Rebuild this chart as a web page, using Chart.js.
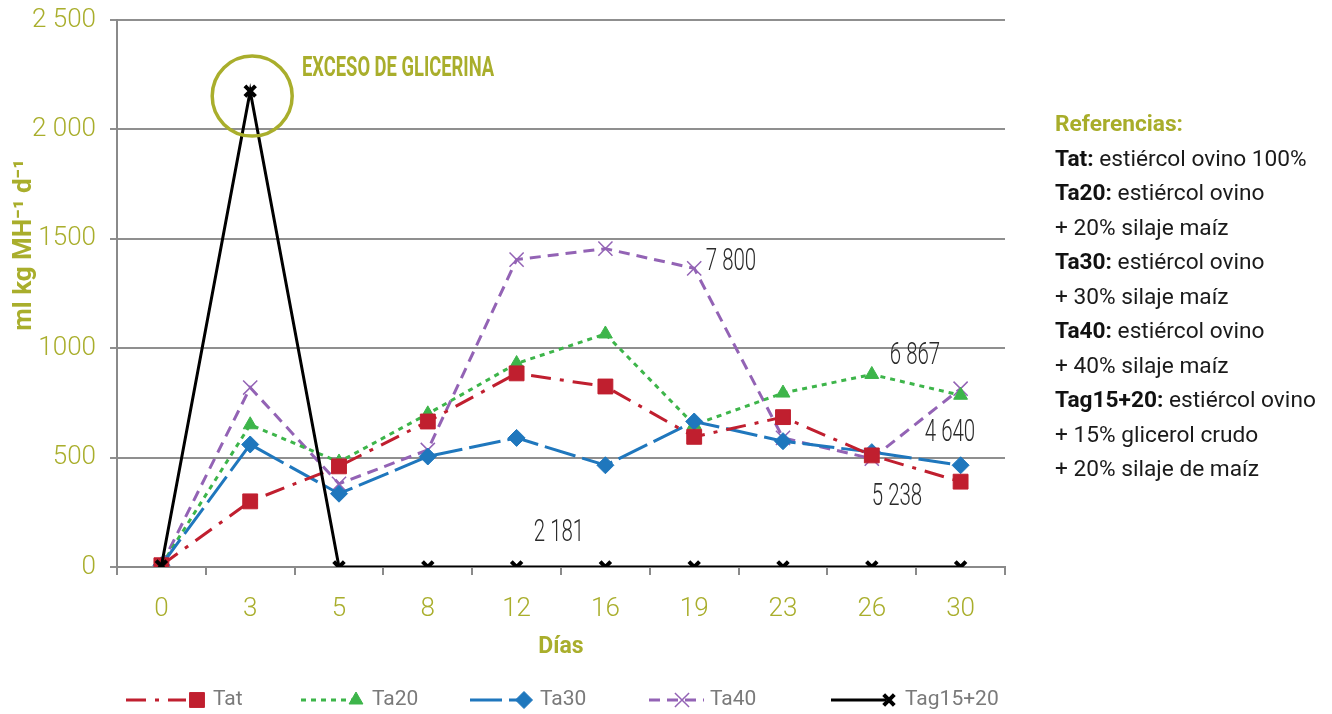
<!DOCTYPE html>
<html>
<head>
<meta charset="utf-8">
<script src="https://cdn.jsdelivr.net/npm/chart.js@4.4.1/dist/chart.umd.min.js"></script>
<style>
  html, body { margin: 0; padding: 0; background: #fff; }
  #wrap { position: relative; width: 1332px; height: 714px; }
  #refs {
    position: absolute; left: 1055px; top: 107px;
    font-family: Roboto, "Open Sans", sans-serif; font-size: 22.7px;
    line-height: 34.5px; color: #1a1a1a; white-space: nowrap;
  }
  #refs .head { color: #a8ad2a; font-weight: bold; }
  #refs b { font-weight: bold; color: #111; }
</style>
</head>
<body>
<div id="wrap">
  <canvas id="myChart" width="1332" height="714"></canvas>
  <div id="refs">
    <div class="head">Referencias:</div>
    <div><b>Tat:</b> estiércol ovino 100%</div>
    <div><b>Ta20:</b> estiércol ovino</div>
    <div>+ 20% silaje maíz</div>
    <div><b>Ta30:</b> estiércol ovino</div>
    <div>+ 30% silaje maíz</div>
    <div><b>Ta40:</b> estiércol ovino</div>
    <div>+ 40% silaje maíz</div>
    <div><b>Tag15+20:</b> estiércol ovino</div>
    <div>+ 15% glicerol crudo</div>
    <div>+ 20% silaje de maíz</div>
  </div>
</div>
<script>
// days of the trial
const dias = ["0", "3", "5", "8", "12", "16", "19", "23", "26", "30"];

// ml kg MH-1 d-1 per treatment
const tat   = [8, 300, 460, 665, 885, 825, 595, 685, 510, 390];
const ta20  = [8, 650, 480, 700, 930, 1065, 650, 795, 880, 785];
const ta30  = [8, 560, 335, 505, 590, 465, 665, 575, 525, 465];
const ta40  = [8, 820, 380, 535, 1405, 1455, 1365, 590, 495, 815];
const tag   = [5, 2175, 0, 0, 0, 0, 0, 0, 0, 0];

const yTickLabels = ["0", "500", "1000", "1500", "2 000", "2 500"];

// cumulative production notes written on the chart
const notes = ["7 800", "6 867", "4 640", "5 238", "2 181"];
const calloutText = "EXCESO DE GLICERINA";

const OLIVE = "#a9ae2c";
const THIN = "Roboto, 'Open Sans', sans-serif";

const ctx = document.getElementById("myChart").getContext("2d");

// narrow text: squeeze horizontally round its anchor
function narrowText(c, text, x, y, sx) {
  c.save();
  c.translate(x, y);
  c.scale(sx, 1);
  c.fillText(text, 0, 0);
  c.restore();
}

const notesPlugin = {
  id: "notes",
  afterDatasetsDraw(chart) {
    const c = chart.ctx;
    const x = chart.scales.x, y = chart.scales.y;
    c.save();
    // circle round the glycerine peak
    c.strokeStyle = OLIVE;
    c.lineWidth = 3.5;
    c.beginPath();
    c.arc(x.getPixelForValue(1) + 2, y.getPixelForValue(2175) + 5, 40, 0, Math.PI * 2);
    c.stroke();
    c.fillStyle = OLIVE;
    c.font = "bold 27px " + THIN;
    c.textBaseline = "middle";
    c.textAlign = "left";
    narrowText(c, calloutText, 302, 69, 0.68);

    c.fillStyle = "#2b2b2b";
    c.font = "300 31px " + THIN;
    c.textAlign = "center";
    const spots = [[731, 262], [915, 356], [950, 433], [897, 497], [559, 533]];
    notes.forEach((t, i) => narrowText(c, t, spots[i][0], spots[i][1], 0.66));

    // y axis title
    c.translate(24, 245);
    c.rotate(-Math.PI / 2);
    c.fillStyle = OLIVE;
    c.font = "bold 26px Roboto, sans-serif";
    c.fillText("ml kg MH\u207B\u00B9 d\u207B\u00B9", 0, 0);
    c.restore();
  },
  afterDraw(chart) {
    // custom legend row along the bottom
    const c = chart.ctx;
    const starts = [126, 301, 470, 649, 831];
    const lineLen = [60, 52, 48, 55, 55];
    const markAt = [71, 55, 54, 33, 58];
    const ly = 700;
    c.save();
    chart.data.datasets.forEach((ds, i) => {
      const x0 = starts[i];
      c.strokeStyle = ds.borderColor;
      c.lineWidth = 3;
      c.setLineDash(ds.borderDash || []);
      c.beginPath();
      c.moveTo(x0, ly);
      c.lineTo(x0 + lineLen[i], ly);
      c.stroke();
      c.setLineDash([]);
      const mx = x0 + markAt[i];
      c.fillStyle = ds.pointBackgroundColor;
      c.strokeStyle = ds.pointBorderColor;
      c.lineWidth = ds.pointBorderWidth;
      Chart.helpers.drawPoint(c, {
        pointStyle: ds.pointStyle, radius: ds.pointRadius, rotation: 0,
        borderWidth: ds.pointBorderWidth
      }, mx, ly);
      c.fillStyle = "#7a7a7a";
      c.font = "21px Roboto, sans-serif";
      c.textBaseline = "middle";
      c.textAlign = "left";
      const tx = i === 3 ? x0 + 61 : mx + 16;
      c.fillText(ds.label, tx, ly);
    });
    c.restore();
  }
};

function series(label, data, color, dash, style, radius, bw, order) {
  return {
    label: label,
    data: data,
    borderColor: color,
    backgroundColor: color,
    borderWidth: 3,
    borderDash: dash,
    tension: 0,
    pointStyle: style,
    pointRadius: radius,
    pointHoverRadius: radius,
    pointBackgroundColor: color,
    pointBorderColor: color,
    pointBorderWidth: bw,
    order: order,
  };
}

const myChart = new Chart(ctx, {
  type: "line",
  data: {
    labels: dias,
    datasets: [
      series("Tat", tat, "#c01f2f", [20, 9, 4, 9], "rect", 10.5, 1, 1),
      series("Ta20", ta20, "#3db54a", [5, 5], "triangle", 8, 1, 3),
      series("Ta30", ta30, "#1f77bd", [32, 7], "rectRot", 8.5, 1, 2),
      series("Ta40", ta40, "#9363b5", [11, 7], "crossRot", 10, 1.5, 4),
      series("Tag15+20", tag, "#000000", [], "crossRot", 7.5, 4, 0),
    ],
  },
  options: {
    responsive: false,
    animation: false,
    layout: { autoPadding: false, padding: { left: 0, right: 327, top: 20, bottom: 47 } },
    plugins: { legend: { display: false }, tooltip: { enabled: false } },
    scales: {
      x: {
        offset: true,
        afterFit: (s) => { s.height = 100; },
        grid: { offset: true, drawOnChartArea: false, drawTicks: true, tickLength: 8, color: "#8a8a8a", lineWidth: 2 },
        border: { color: "#8a8a8a", width: 2 },
        ticks: { color: OLIVE, padding: 19, font: { family: THIN, size: 26, weight: 300 } },
        title: { display: true, text: "Días", color: OLIVE, padding: { top: 0, bottom: 6 }, font: { family: "Roboto, sans-serif", size: 23, weight: "bold" } },
      },
      y: {
        min: 0,
        max: 2500,
        afterFit: (s) => { s.width = 117; s.paddingTop = 0; s.paddingBottom = 0; },
        grid: { color: "#8f8f8f", lineWidth: 2, tickLength: 7 },
        border: { color: "#8a8a8a", width: 2 },
        ticks: {
          stepSize: 500,
          color: OLIVE,
          padding: 14,
          font: { family: THIN, size: 26, weight: 300 },
          callback: (v, i) => yTickLabels[i],
        },
      },
    },
  },
  plugins: [notesPlugin],
});
</script>
</body>
</html>
